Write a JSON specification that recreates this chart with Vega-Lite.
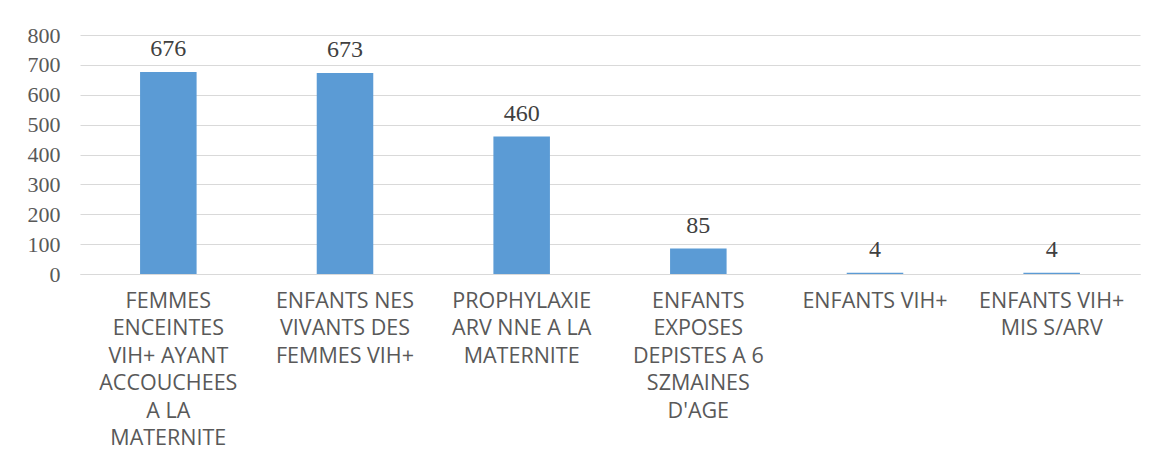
{
  "$schema": "https://vega.github.io/schema/vega-lite/v6.json",
  "width": 1060,
  "height": 239,
  "autosize": {"type": "none"},
  "padding": {"left": 80, "top": 35, "right": 20, "bottom": 197},
  "background": "white",
  "data": {
    "values": [
      {"cat": "FEMMES|ENCEINTES|VIH+ AYANT|ACCOUCHEES|A LA|MATERNITE", "value": 676, "order": 1},
      {"cat": "ENFANTS NES|VIVANTS DES|FEMMES VIH+", "value": 673, "order": 2},
      {"cat": "PROPHYLAXIE|ARV NNE A LA|MATERNITE", "value": 460, "order": 3},
      {"cat": "ENFANTS|EXPOSES|DEPISTES A 6|SZMAINES|D'AGE", "value": 85, "order": 4},
      {"cat": "ENFANTS VIH+", "value": 4, "order": 5},
      {"cat": "ENFANTS VIH+|MIS S/ARV", "value": 4, "order": 6}
    ]
  },
  "encoding": {
    "x": {
      "field": "cat",
      "type": "nominal",
      "sort": {"field": "order"},
      "scale": {"paddingInner": 0.68, "paddingOuter": 0.34},
      "axis": {
        "title": null,
        "labelAngle": 0,
        "labelExpr": "split(datum.label, '|')",
        "labelFont": "Open Sans",
        "labelFontSize": 21.5,
        "labelColor": "#595959",
        "labelLineHeight": 27.5,
        "labelPadding": 16,
        "labelBaseline": "top",
        "labelLimit": 0,
        "ticks": false,
        "domainColor": "#d9d9d9",
        "domainWidth": 1
      }
    },
    "y": {
      "field": "value",
      "type": "quantitative",
      "scale": {"domain": [0, 800]},
      "axis": {
        "title": null,
        "values": [0, 100, 200, 300, 400, 500, 600, 700, 800],
        "labelFont": "Liberation Serif",
        "labelFontSize": 22,
        "labelColor": "#595959",
        "labelPadding": 20,
        "ticks": false,
        "domain": false,
        "gridColor": "#d9d9d9",
        "gridWidth": 1
      }
    }
  },
  "layer": [
    {"mark": {"type": "bar", "color": "#5B9BD5"}},
    {
      "mark": {
        "type": "text",
        "baseline": "alphabetic",
        "dy": -16,
        "font": "Liberation Serif",
        "fontSize": 24,
        "color": "#404040"
      },
      "encoding": {"text": {"field": "value", "type": "quantitative"}}
    }
  ],
  "config": {"view": {"stroke": null}}
}
